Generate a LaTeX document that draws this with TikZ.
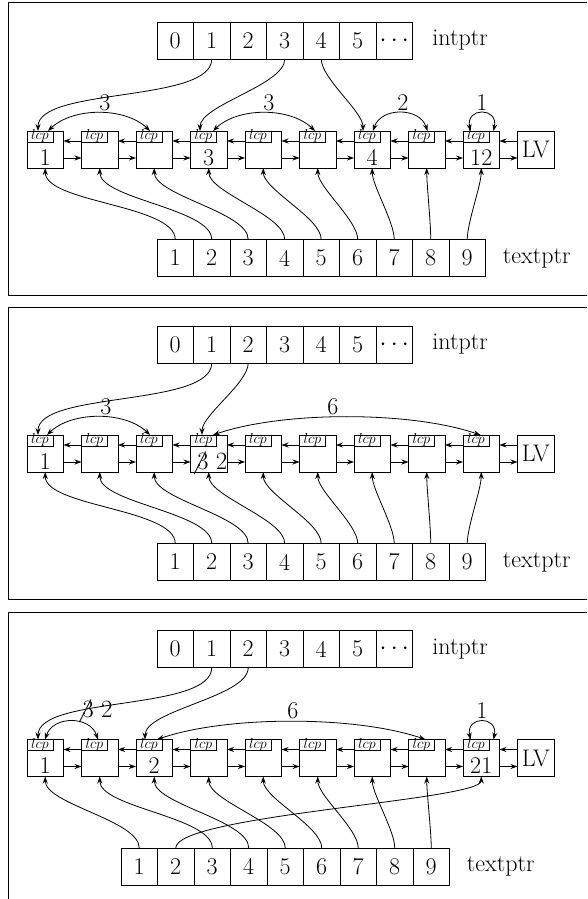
\documentclass[tikz,border=0pt]{standalone}
\usetikzlibrary{arrows.meta}
\tikzset{
  cell/.style={draw, minimum width=36.5pt, minimum height=37pt, inner sep=0pt, outer sep=0pt, font=\fontsize{24}{28}\selectfont},
  lbox/.style={draw, minimum width=36.5pt, minimum height=37pt, inner sep=0pt, outer sep=0pt},
  lcpbox/.style={draw, minimum width=26pt, text height=8.5pt, text depth=2.5pt, inner sep=0pt, outer sep=0pt, anchor=north west, font=\fontsize{14.5}{14.5}\selectfont},
  big/.style={font=\fontsize{24}{28}\selectfont, inner sep=0pt},
  arr/.style={-{Stealth[length=7pt,width=5pt]}},
  darr/.style={{Stealth[length=7pt,width=5pt]}-{Stealth[length=7pt,width=5pt]}},
  up/.style={out=90, in=-90, looseness=0.6},
  down/.style={out=-90, in=90, looseness=0.6},
  frameline/.style={line width=1pt},
}
\newcommand\drawpanel[2]{%
  \foreach \k/\lab in {0/0,1/1,2/2,3/3,4/4,5/5,6/{$\cdots$}}
    \node[cell] (#1i\k) at ({175.25+36.5*\k},-40.5) {\lab};
  \node[big, anchor=west] (#1il) at (432,-40.5) {intptr};
  \foreach \j in {1,...,9} {
    \node[lbox] (#1b\j) at ({45.25+54.5*(\j-1)},-149.5) {};
    \node[lcpbox] (#1l\j) at (#1b\j.north west) {$lcp$};
  }
  \node[lbox, big] (#1b10) at (535.75,-149.5) {LV};
  \foreach \j [evaluate=\j as \nx using {int(\j+1)}] in {1,...,9} {
    \draw[arr] ([yshift=-10pt]#1b\nx.north west) -- ([yshift=-10pt]#1b\j.north east);
    \draw[arr] ([yshift=10pt]#1b\j.south east) -- ([yshift=10pt]#1b\nx.south west);
  }
  \foreach \k in {1,...,9}
    \node[cell] (#1t\k) at ({#2+18.25+36.5*(\k-1)},-258) {\k};
  \node[big, anchor=west] (#1tl) at ({#2+328.5+17},-258) {textptr};
}
\newcommand\lcparc[3]{\draw[darr] (#1) .. controls +(#3,24) and +(-#3,24) .. (#2);}
\begin{document}
\begin{tikzpicture}[x=1pt,y=1pt,line width=0.8pt]
\useasboundingbox (0,0) rectangle (587,-899);
\clip (0,0) rectangle (587,-899);
% frames
\draw[frameline] (600,-3) -- (8,-3) -- (8,-295) -- (600,-295);
\draw[frameline] (600,-307) -- (8,-307) -- (8,-599) -- (600,-599);
\draw[frameline] (600,-612) -- (8,-612) -- (8,-910);

% ---------------- panel 1
\begin{scope}
\drawpanel{p1}{157}
\node[big, anchor=base] (p1n1) at ([yshift=3pt]p1b1.south) {1};
\node[big, anchor=base] (p1n4) at ([yshift=3pt]p1b4.south) {3};
\node[big, anchor=base] (p1n7) at ([yshift=3pt]p1b7.south) {4};
\node[big, anchor=base] (p1n9) at ([yshift=3pt]p1b9.south) {12};
\foreach \k in {1,...,9}
  \draw[arr] (p1t\k.north) to[up] (p1b\k.south);
\draw[arr] (p1i1.south) to[down] ([xshift=11pt]p1b1.north west);
\draw[arr] (p1i3.south) to[down] ([xshift=9.5pt]p1b4.north west);
\draw[arr] (p1i4.south) to[down] ([xshift=9pt]p1b7.north west);
\coordinate (p1a1) at ([xshift=21pt]p1b1.north west);
\coordinate (p1a3) at ([xshift=14pt]p1b3.north west);
\coordinate (p1a4) at ([xshift=22.5pt]p1b4.north west);
\coordinate (p1a6) at ([xshift=15.5pt]p1b6.north west);
\coordinate (p1a7) at ([xshift=19pt]p1b7.north west);
\coordinate (p1a8) at ([xshift=19pt]p1b8.north west);
\coordinate (p1a9l) at ([xshift=7.5pt]p1b9.north west);
\coordinate (p1a9r) at ([xshift=30.5pt]p1b9.north west);
\lcparc{p1a1}{p1a3}{25}
\lcparc{p1a4}{p1a6}{25}
\lcparc{p1a7}{p1a8}{8}
\lcparc{p1a9l}{p1a9r}{-5}
\node[big, anchor=base] (p1x1) at (105,-110) {3};
\node[big, anchor=base] (p1x2) at (269,-110) {3};
\node[big, anchor=base] (p1x3) at (403,-110) {2};
\node[big, anchor=base] (p1x4) at (482,-110) {1};
\end{scope}

% ---------------- panel 2
\begin{scope}[yshift=-304pt]
\drawpanel{p2}{157}
\node[big, anchor=base] (p2n1) at ([yshift=3pt]p2b1.south) {1};
\node[big, anchor=base] (p2n4) at ([yshift=3pt]p2b4.south) {$\not3\ 2$};
\foreach \k in {1,...,9}
  \draw[arr] (p2t\k.north) to[up] (p2b\k.south);
\draw[arr] (p2i1.south) to[down] ([xshift=11pt]p2b1.north west);
\draw[arr] (p2i2.south) to[down] ([xshift=11.5pt]p2b4.north west);
\coordinate (p2a1) at ([xshift=20pt]p2b1.north west);
\coordinate (p2a3) at ([xshift=14pt]p2b3.north west);
\coordinate (p2a4) at ([xshift=22.5pt]p2b4.north west);
\coordinate (p2a9) at ([xshift=17.5pt]p2b9.north west);
\lcparc{p2a1}{p2a3}{25}
\lcparc{p2a4}{p2a9}{70}
\node[big, anchor=base] (p2x1) at (106,-110) {3};
\node[big, anchor=base] (p2x2) at (333,-110) {6};
\end{scope}

% ---------------- panel 3
\begin{scope}[yshift=-608.5pt]
\drawpanel{p3}{121}
\node[big, anchor=base] (p3n1) at ([yshift=3pt]p3b1.south) {1};
\node[big, anchor=base] (p3n3) at ([yshift=3pt]p3b3.south) {2};
\node[big, anchor=base] (p3n9) at ([yshift=3pt]p3b9.south) {21};
\draw[arr] (p3t1.north) to[up] (p3b1.south);
\draw[arr] (p3t2.north) .. controls +(0,33) and +(0,-24) .. (p3b9.south);
\foreach \k [evaluate=\k as \m using {int(\k-1)}] in {3,...,9}
  \draw[arr] (p3t\k.north) to[up] (p3b\m.south);
\draw[arr] (p3i1.south) to[down] ([xshift=11pt]p3b1.north west);
\draw[arr] (p3i2.south) to[down] ([xshift=9pt]p3b3.north west);
\coordinate (p3a1) at ([xshift=18pt]p3b1.north west);
\coordinate (p3a2) at ([xshift=16.5pt]p3b2.north west);
\coordinate (p3a3) at ([xshift=21pt]p3b3.north west);
\coordinate (p3a8) at ([xshift=17pt]p3b8.north west);
\coordinate (p3a9l) at ([xshift=7.5pt]p3b9.north west);
\coordinate (p3a9r) at ([xshift=30.5pt]p3b9.north west);
\lcparc{p3a1}{p3a2}{8}
\lcparc{p3a3}{p3a8}{70}
\lcparc{p3a9l}{p3a9r}{-5}
\node[big, anchor=base] (p3x1) at (94,-109) {$\not3\ 2$};
\node[big, anchor=base] (p3x2) at (293,-110) {6};
\node[big, anchor=base] (p3x3) at (482,-110) {1};
\end{scope}
\end{tikzpicture}
\end{document}
